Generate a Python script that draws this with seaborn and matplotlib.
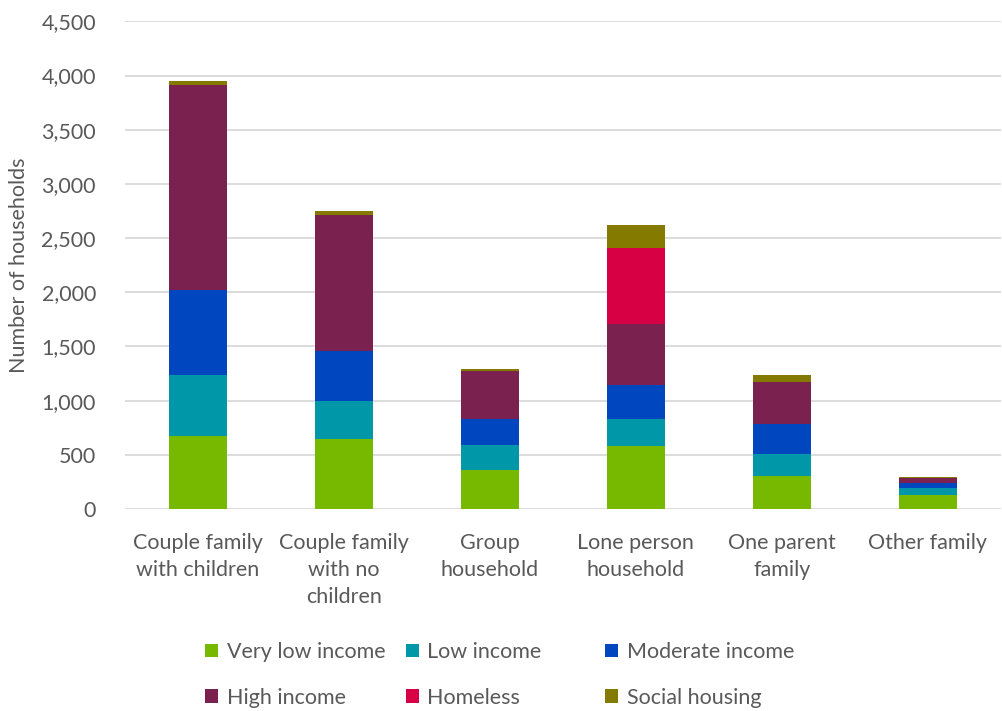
import matplotlib
matplotlib.use("Agg")
import matplotlib.pyplot as plt
import seaborn as sns
import pandas as pd
import numpy as np
from matplotlib.patches import Patch

categories = ["Couple family\nwith children", "Couple family\nwith no\nchildren", "Group\nhousehold",
              "Lone person\nhousehold", "One parent\nfamily", "Other family"]
series = ["Very low income", "Low income", "Moderate income", "High income", "Homeless", "Social housing"]
very_low = [675, 645, 362, 583, 303, 129]
low = [560, 352, 230, 246, 206, 70]
moderate = [790, 458, 237, 313, 273, 43]
high = [1890, 1255, 442, 562, 390, 43]
homeless = [0, 0, 0, 709, 0, 0]
social = [35, 44, 18, 205, 65, 10]
colors = ["#77B800", "#0097A9", "#0046BE", "#7A214F", "#D80045", "#857A00"]
yticks = [0, 500, 1000, 1500, 2000, 2500, 3000, 3500, 4000, 4500]

values = [very_low, low, moderate, high, homeless, social]

sns.set_theme(style="white")
plt.rcParams['font.family'] = ['Lato', 'DejaVu Sans']
text_color = "#595959"
fs = 15.5

fig = plt.figure(figsize=(10.02, 7.11), dpi=100)
ax = fig.add_axes([0.1248, 0.284, 0.874, 0.686])

cum = np.cumsum(np.array(values), axis=0)
for i in range(len(series) - 1, -1, -1):
    df = pd.DataFrame({"cat": categories, "val": cum[i]})
    sns.barplot(data=df, x="cat", y="val", color=colors[i], width=0.4, ax=ax,
                saturation=1, zorder=3, linewidth=0)

ax.set_ylim(0, 4500)
ax.set_yticks(yticks)
ax.set_yticklabels([f"{v:,}" for v in yticks])
ax.yaxis.grid(True, color="#D9D9D9", linewidth=1.3, zorder=0)
ax.set_axisbelow(True)
for s in ax.spines.values():
    s.set_visible(False)
ax.tick_params(axis="both", length=0, labelsize=fs, colors=text_color)
ax.tick_params(axis="x", pad=17)
ax.tick_params(axis="y", pad=21)
for lbl in ax.get_xticklabels():
    lbl.set_linespacing(1.45)
    lbl.set_verticalalignment("top")
ax.set_xlabel("")
ax.set_ylabel("Number of households", fontsize=fs, color=text_color, labelpad=9)

handles = [Patch(facecolor=c, edgecolor="none") for c in colors]
cols = [(0.205, [0, 3]), (0.405, [1, 4]), (0.604, [2, 5])]
for x, idx in cols:
    leg = fig.legend([handles[j] for j in idx], [series[j] for j in idx],
                     loc="upper left", bbox_to_anchor=(x, 0.097), frameon=False,
                     fontsize=fs, handlelength=0.6, handleheight=0.6, handletextpad=0.4,
                     labelspacing=1.2, borderaxespad=0, borderpad=0)
    for t in leg.get_texts():
        t.set_color(text_color)

fig.savefig("out.png", dpi=100, facecolor="white")
